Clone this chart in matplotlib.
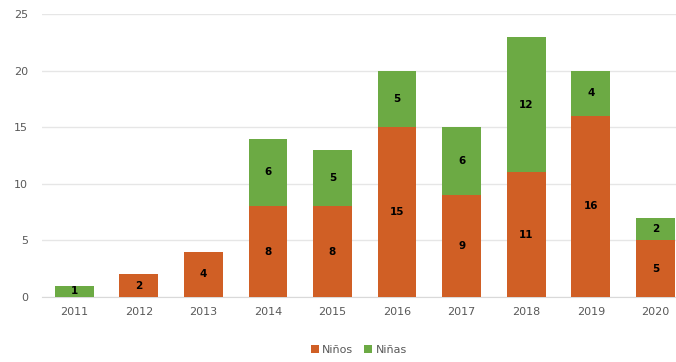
import matplotlib.pyplot as plt
import numpy as np

years = ["2011", "2012", "2013", "2014", "2015", "2016", "2017", "2018", "2019", "2020"]
ninos = [0, 2, 4, 8, 8, 15, 9, 11, 16, 5]
ninas = [1, 0, 0, 6, 5, 5, 6, 12, 4, 2]

c_ninos = "#D05F25"
c_ninas = "#6CAA44"

fig = plt.figure(figsize=(6.76, 3.62), dpi=100)
ax = fig.add_axes([0.062, 0.18, 0.938, 0.781])

x = np.arange(len(years))
w = 0.6
b1 = ax.bar(x, ninos, w, color=c_ninos, label="Niños", zorder=3)
b2 = ax.bar(x, ninas, w, bottom=ninos, color=c_ninas, label="Niñas", zorder=3)

# value labels in the middle of each segment, skipping empty ones
for bars, vals, bottoms in ((b1, ninos, [0] * len(ninos)), (b2, ninas, ninos)):
    for rect, v, b in zip(bars, vals, bottoms):
        if v > 0:
            ax.text(rect.get_x() + rect.get_width() / 2, b + v / 2, str(v),
                    ha="center", va="center", fontsize=7.5, fontweight="bold",
                    color="black", zorder=4)

ax.set_xlim(-0.5, 9.32)
ax.set_ylim(0, 25)
ax.set_yticks(range(0, 26, 5))
ax.set_xticks(x)
ax.set_xticklabels(years)
ax.yaxis.grid(True, color="#E6E6E6", linewidth=1, zorder=0)
ax.tick_params(axis="both", length=0, labelsize=8, labelcolor="#595959")
ax.tick_params(axis="y", pad=10)
ax.tick_params(axis="x", pad=7)
for s in ("top", "right", "left"):
    ax.spines[s].set_visible(False)
ax.spines["bottom"].set_color("#D9D9D9")

ax.legend(loc="upper center", bbox_to_anchor=(0.5, -0.135), ncol=2, frameon=False,
          fontsize=8, handlelength=0.7, handleheight=0.7, handletextpad=0.3,
          columnspacing=1.0, labelcolor="#595959")

fig.savefig("out.png", dpi=100)
